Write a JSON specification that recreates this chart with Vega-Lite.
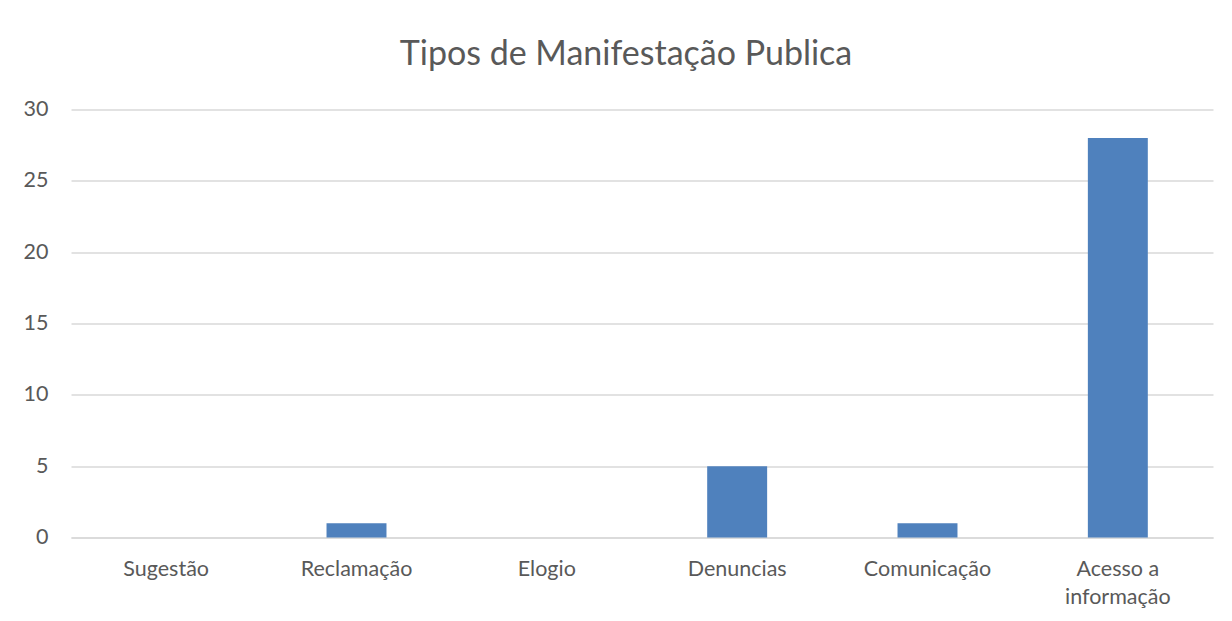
{
  "$schema": "https://vega.github.io/schema/vega-lite/v6.json",
  "autosize": "none",
  "width": 1142,
  "height": 428,
  "padding": {"left": 71, "top": 109.5, "right": 19, "bottom": 83.5},
  "background": "white",
  "title": {
    "text": "Tipos de Manifestação Publica",
    "font": "Lato",
    "fontSize": 34,
    "fontWeight": "normal",
    "color": "#595959",
    "anchor": "middle",
    "dx": -16,
    "offset": 27
  },
  "data": {
    "values": [
      {"tipo": "Sugestão", "valor": 0},
      {"tipo": "Reclamação", "valor": 1},
      {"tipo": "Elogio", "valor": 0},
      {"tipo": "Denuncias", "valor": 5},
      {"tipo": "Comunicação", "valor": 1},
      {"tipo": "Acesso a informação", "valor": 28}
    ]
  },
  "mark": {"type": "bar", "color": "#4F81BD"},
  "encoding": {
    "x": {
      "field": "tipo",
      "type": "nominal",
      "sort": null,
      "scale": {"paddingInner": 0.685, "paddingOuter": 0.3425},
      "axis": {
        "title": null,
        "labelAngle": 0,
        "labelFont": "Lato",
        "labelFontSize": 21.5,
        "labelColor": "#595959",
        "labelPadding": 21,
        "labelLineHeight": 28,
        "labelBaseline": "top",
        "ticks": false,
        "domain": true,
        "domainColor": "#D9D9D9",
        "domainWidth": 1.5,
        "grid": false,
        "labelExpr": "datum.label == 'Acesso a informação' ? ['Acesso a', 'informação'] : datum.label"
      }
    },
    "y": {
      "field": "valor",
      "type": "quantitative",
      "scale": {"domain": [0, 30]},
      "axis": {
        "title": null,
        "values": [0, 5, 10, 15, 20, 25, 30],
        "labelFont": "Lato",
        "labelFontSize": 21.5,
        "labelColor": "#595959",
        "labelPadding": 23,
        "ticks": false,
        "domain": false,
        "grid": true,
        "gridColor": "#D9D9D9",
        "gridWidth": 1.5
      }
    }
  },
  "config": {"view": {"stroke": null}}
}
